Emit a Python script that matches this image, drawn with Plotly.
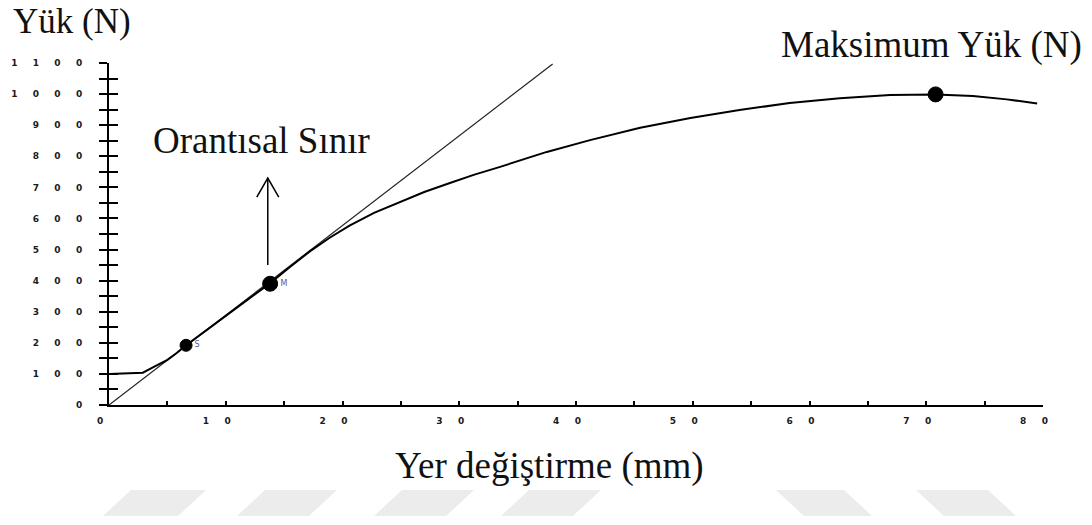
import plotly.graph_objects as go

# ---- data ----
curve_x = [0, 1.5, 2.9, 3.8, 5.0, 5.8, 6.6, 8.5, 10.5, 12.2, 13.8, 15.5, 17.2, 18.9, 20.6,
           22.7, 24.9, 27.0, 29.2, 31.3, 33.5, 37.5, 41.2, 45.5, 49.8, 54.0, 58.3, 62.6,
           66.9, 70.8, 74.0, 76.9, 79.5]
curve_y = [100, 101, 104, 122, 145, 167, 192, 245, 300, 346, 392, 444, 494, 538, 577,
           618, 653, 685, 714, 741, 766, 814, 852, 892, 923, 949, 971, 987,
           997, 999, 994, 983, 970]

tangent_x = [0, 38.0]
tangent_y = [0, 1097]

point_x = [6.6, 13.8, 70.8]
point_y = [192, 390, 999]
point_labels = ["S", "M", ""]

arrow_x = 13.6
arrow_from_y = 450
arrow_to_y = 730

y_tick_values = [0, 100, 200, 300, 400, 500, 600, 700, 800, 900, 1000, 1100]
x_tick_values = [0, 10, 20, 30, 40, 50, 60, 70, 80]

title_y = "Yük (N)"
title_x = "Yer değiştirme (mm)"
label_max = "Maksimum Yük (N)"
label_prop = "Orantısal Sınır"

# ---- geometry ----
FIG_W, FIG_H = 1092, 525
L, T, PW, PH = 109, 63, 934, 342
X_RANGE = [0, 80]
Y_RANGE = [0, 1100]


def px2paper_x(p):
    return (p - L) / PW


def px2paper_y(p):
    return (T + PH - p) / PH


SP = "\u2003\u2002\u2009"


def spaced(v):
    return "<b>" + SP.join(str(v)) + "</b>"


y_vals_all = list(range(0, 1101, 50))
y_text_all = [spaced(v) if v in y_tick_values else "" for v in y_vals_all]
x_vals_all = list(range(0, 81, 5))
x_text_all = [spaced(v) if v in x_tick_values else "" for v in x_vals_all]

serif = "Liberation Serif"
tickfont = dict(size=9, color="#1a1a1a", family="DejaVu Sans")

fig = go.Figure()

fig.add_trace(go.Scatter(x=tangent_x, y=tangent_y, mode="lines",
                         line=dict(color="#222222", width=1.2), showlegend=False,
                         hoverinfo="skip"))
fig.add_trace(go.Scatter(x=curve_x, y=curve_y, mode="lines",
                         line=dict(color="black", width=2), showlegend=False))
fig.add_trace(go.Scatter(x=point_x, y=point_y, mode="markers+text", opacity=1,
                         marker=dict(color="#000000", size=[12, 15, 15], opacity=1,
                                     line=dict(color="#000000", width=1)),
                         text=point_labels, textposition="middle right",
                         textfont=dict(size=8, color="#5a5a8a", family="DejaVu Sans"),
                         cliponaxis=False, showlegend=False))

# arrowhead chevron for the "Orantısal Sınır" pointer (sized in pixels)
px_per_x = PW / (X_RANGE[1] - X_RANGE[0])
px_per_y = PH / (Y_RANGE[1] - Y_RANGE[0])
hx = 11 / px_per_x
hy = 19 / px_per_y
fig.add_trace(go.Scatter(x=[arrow_x, arrow_x, None, arrow_x - hx, arrow_x, arrow_x + hx],
                         y=[arrow_from_y, arrow_to_y, None, arrow_to_y - hy, arrow_to_y,
                            arrow_to_y - hy],
                         mode="lines", line=dict(color="black", width=1.5),
                         showlegend=False, hoverinfo="skip"))

# invisible trace on overlay axis so it renders
fig.add_trace(go.Scatter(x=[0], y=[0], yaxis="y2", mode="markers",
                         marker=dict(opacity=0), showlegend=False, hoverinfo="skip"))

fig.update_layout(
    width=FIG_W, height=FIG_H,
    margin=dict(l=L, r=FIG_W - L - PW, t=T, b=FIG_H - T - PH),
    paper_bgcolor="white", plot_bgcolor="white",
    xaxis=dict(range=X_RANGE, showgrid=False, zeroline=False,
               showline=True, linecolor="black", linewidth=2,
               tickmode="array", tickvals=x_vals_all, ticktext=x_text_all,
               ticks="inside", ticklen=4, tickwidth=2, tickcolor="black",
               ticklabelstandoff=6, ticklabelshift=-9, tickfont=tickfont),
    yaxis=dict(range=Y_RANGE, showgrid=False, zeroline=False,
               showline=True, linecolor="black", linewidth=2,
               tickmode="array", tickvals=y_vals_all, ticktext=y_text_all,
               ticks="outside", ticklen=8, tickwidth=2, tickcolor="black",
               ticklabelstandoff=15, tickfont=tickfont),
    yaxis2=dict(range=Y_RANGE, overlaying="y", side="left", anchor="x",
                showgrid=False, zeroline=False, showline=False,
                tickmode="array", tickvals=y_vals_all, showticklabels=False,
                ticks="inside", ticklen=9, tickwidth=2, tickcolor="black"),
    font=dict(family=serif, color="black"),
)

big = dict(family=serif, size=37, color="#111111")
annots = [
    dict(text=title_y, xref="paper", yref="paper", x=px2paper_x(72), y=px2paper_y(0),
         xanchor="center", yanchor="top", showarrow=False,
         font=dict(family=serif, size=35, color="#111111")),
    dict(text=label_max, xref="paper", yref="paper", x=px2paper_x(931), y=px2paper_y(45),
         xanchor="center", yanchor="middle", showarrow=False, font=big),
    dict(text=label_prop, xref="paper", yref="paper", x=px2paper_x(261), y=px2paper_y(140),
         xanchor="center", yanchor="middle", showarrow=False, font=big),
    dict(text=title_x, xref="paper", yref="paper", x=px2paper_x(549), y=px2paper_y(466),
         xanchor="center", yanchor="middle", showarrow=False, font=big),
]
fig.update_layout(annotations=annots)

# faint watermark band at the bottom (decoration)
wm_left = [(103, 178), (237, 309), (374, 446), (501, 573)]
wm_right = [(776, 844), (916, 988)]
top_y, bot_y = px2paper_y(490), px2paper_y(516)
shapes = []
for a, b in wm_left:
    shapes.append(dict(type="path", xref="paper", yref="paper",
                       path=f"M {px2paper_x(a+28)} {top_y} L {px2paper_x(b+28)} {top_y} "
                            f"L {px2paper_x(b)} {bot_y} L {px2paper_x(a)} {bot_y} Z",
                       fillcolor="#ececec", line=dict(width=0), layer="below"))
for a, b in wm_right:
    shapes.append(dict(type="path", xref="paper", yref="paper",
                       path=f"M {px2paper_x(a)} {top_y} L {px2paper_x(b)} {top_y} "
                            f"L {px2paper_x(b+28)} {bot_y} L {px2paper_x(a+28)} {bot_y} Z",
                       fillcolor="#ececec", line=dict(width=0), layer="below"))
fig.update_layout(shapes=shapes)

fig.write_html("out.html",
               config={"displayModeBar": False},
               post_script="document.body.style.margin='0px';"
                           "document.body.style.overflow='hidden';")
